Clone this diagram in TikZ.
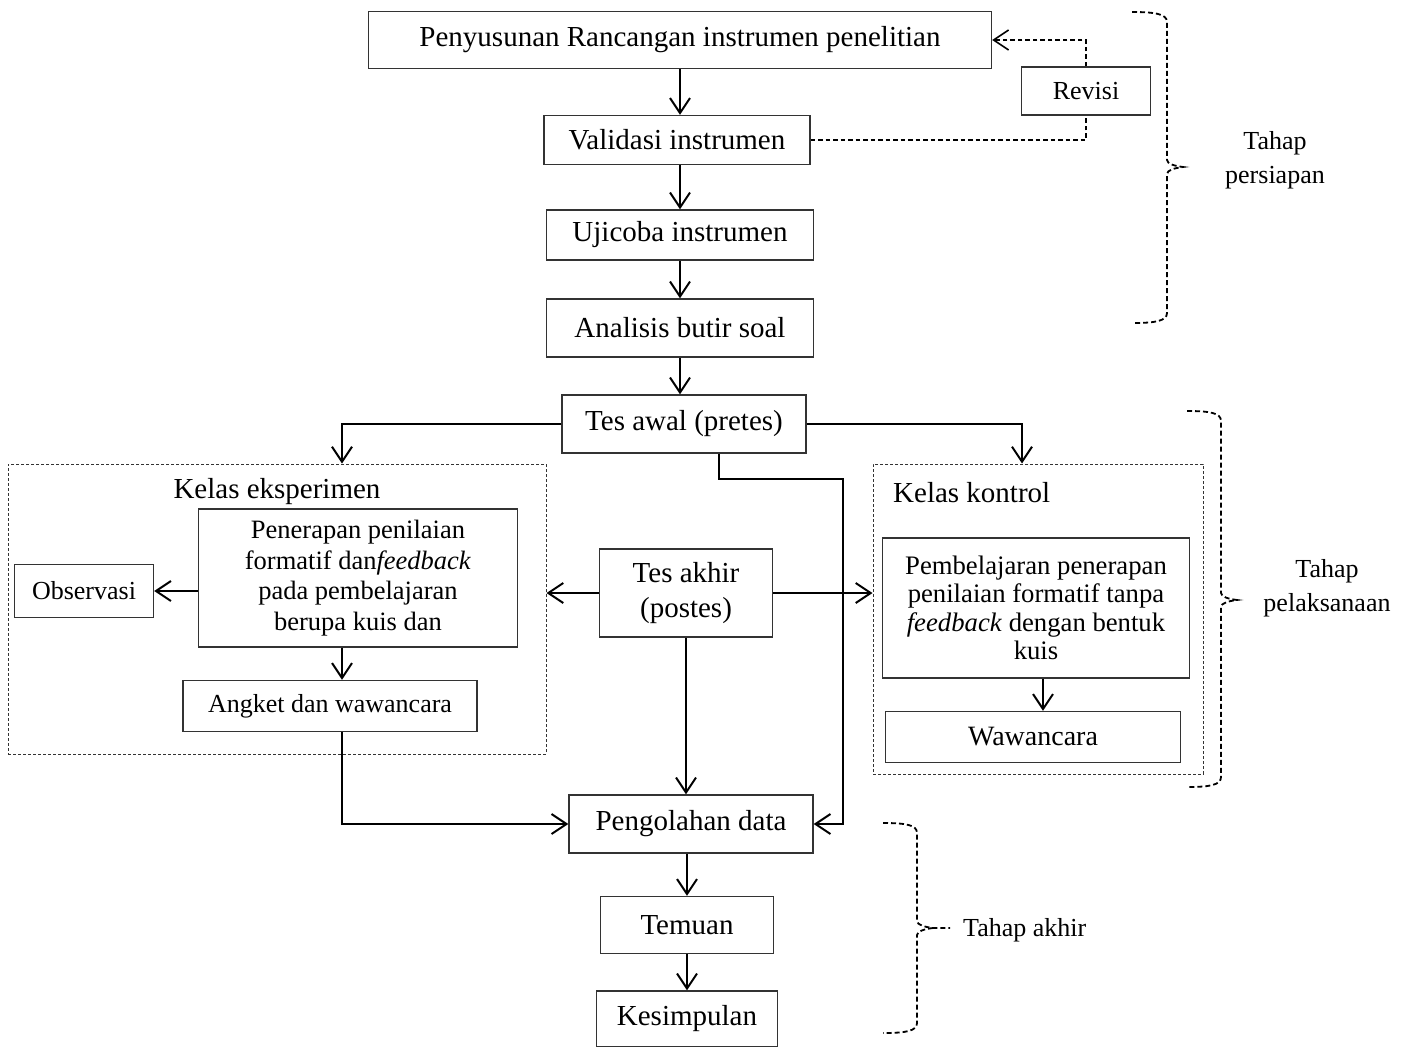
\documentclass[tikz,border=0pt]{standalone}
\usepackage{fontspec}
\setmainfont{Liberation Serif}
\usetikzlibrary{arrows.meta,calc}
\newcommand\fa{\fontsize{29}{35}\selectfont}
\newcommand\fb{\fontsize{26.5}{30.6}\selectfont}
\newcommand\fc{\fontsize{26.7}{28.3}\selectfont}
\newcommand\fd{\fontsize{26}{34}\selectfont}
\begin{document}
\begin{tikzpicture}[x=1pt,y=-1pt,
  box/.style={draw=black!80,line width=1.3pt,inner sep=0pt,align=center,font=\fa},
  grp/.style={draw=black!80,line width=1pt,dash pattern=on 3pt off 2pt,inner sep=0pt},
  tip/.style={-{Straight Barb[length=15pt,width=20pt]}},
  arr/.style={line width=2pt,tip},
  rvs/.style={line width=1.6pt,dash pattern=on 4.5pt off 3pt},
  brc/.style={line width=1.8pt,dash pattern=on 5pt off 3pt},
  lbl/.style={font=\fd,align=center,inner sep=0pt}]
\useasboundingbox (0,0) rectangle (1409,1047);
\fill[white] (0,0) rectangle (1409,1047);

% groups
\node[grp,minimum width=538pt,minimum height=290pt] (eks) at (277,609) {};
\node[grp,minimum width=330pt,minimum height=310pt] (kon) at (1038,619) {};
\node[font=\fa,inner sep=0pt] (eksT) at (277,492) {Kelas eksperimen};
\node[font=\fa,inner sep=0pt,anchor=west] (konT) at (893,493) {Kelas kontrol};

% main boxes
\node[box,minimum width=623pt,minimum height=57pt] (pen) at (680,40) {Penyusunan Rancangan instrumen penelitian};
\node[box,font=\fd,minimum width=129pt,minimum height=48pt] (rev) at (1086,91) {Revisi};
\node[box,minimum width=266pt,minimum height=49pt] (val) at (677,140) {Validasi instrumen};
\node[box,minimum width=267pt,minimum height=50pt] (uji) at (680,235) {Ujicoba instrumen};
\node[box,minimum width=267pt,minimum height=58pt] (ana) at (680,328) {Analisis butir soal};
\node[box,minimum width=244pt,minimum height=58pt] (awal) at (684,424) {Tes awal (pretes)};
\node[box,font=\fb,minimum width=319pt,minimum height=138pt] (penr) at (358,578)
  {Penerapan penilaian\\ formatif dan\textit{feedback}\\ pada pembelajaran\\ berupa kuis dan};
\node[box,font=\fd,minimum width=139pt,minimum height=53pt] (obs) at (84,591) {Observasi};
\node[box,font=\fd,minimum width=294pt,minimum height=51pt] (angk) at (330,706) {Angket dan wawancara};
\node[box,minimum width=173pt,minimum height=88pt] (akhir) at (686,593) {Tes akhir\\ (postes)};
\node[box,font=\fc,minimum width=307pt,minimum height=140pt] (pemb) at (1036,608)
  {Pembelajaran penerapan\\ penilaian formatif tanpa\\ \textit{feedback} dengan bentuk\\ kuis};
\node[box,font=\fontsize{28}{34}\selectfont,minimum width=295pt,minimum height=51pt] (waw) at (1033,737) {Wawancara};
\node[box,minimum width=244pt,minimum height=58pt] (olah) at (691,824) {Pengolahan data};
\node[box,minimum width=173pt,minimum height=57pt] (temu) at (687,925) {Temuan};
\node[box,minimum width=181pt,minimum height=56pt] (kes) at (687,1019) {Kesimpulan};

% helper coordinates
\coordinate (ex) at (342,0);
\coordinate (kx) at (1022,0);
\coordinate (b1) at (719,479);
\coordinate (b2) at (843,479);
\coordinate (wx) at (1043,0);

% connectors
\draw[arr] (pen.south) -- (pen.south |- val.north);
\draw[arr] (uji.north |- val.south) -- (uji.north);
\draw[arr] (uji.south) -- (ana.north);
\draw[arr] (ana.south) -- (ana.south |- awal.north);
\draw[arr] (awal.west) -| (ex |- eks.north);
\draw[arr] (awal.east) -| (kx |- kon.north);
\draw[arr] (b1 |- awal.south) -- (b1) -- (b2) -- (b2 |- olah.east) -- (olah.east);
\draw[arr] (akhir.west) -- (akhir.west -| eks.east);
\draw[arr] (akhir.east) -- (akhir.east -| kon.west);
\draw[arr] (akhir.south) -- (akhir.south |- olah.north);
\draw[arr] (penr.west |- obs.east) -- (obs.east);
\draw[arr] (ex |- penr.south) -- (ex |- angk.north);
\draw[arr] (ex |- angk.south) |- (olah.west);
\draw[arr] (wx |- pemb.south) -- (wx |- waw.north);
\draw[arr] (olah.south -| temu.north) -- (temu.north);
\draw[arr] (temu.south) -- (kes.north);
\draw[rvs] (val.east) -| (rev.south);
\draw[rvs,tip] (rev.north) |- (pen.east);

% braces
\draw[brc] (1132,12) .. controls (1155,12) and (1167,14) .. (1167,22) -- (1167,160)
  .. controls (1167,164) and (1175,166) .. (1183,167)
  .. controls (1175,168) and (1167,170) .. (1167,174) -- (1167,313)
  .. controls (1167,321) and (1155,323) .. (1133,323);
\draw[brc] (1187,411) .. controls (1210,411) and (1221,413) .. (1221,421) -- (1221,593)
  .. controls (1221,597) and (1229,599) .. (1237,600)
  .. controls (1229,601) and (1221,603) .. (1221,607) -- (1221,777)
  .. controls (1221,785) and (1210,787) .. (1187,787);
\draw[brc] (883,823) .. controls (906,823) and (917,825) .. (917,833) -- (917,921)
  .. controls (917,925) and (925,927) .. (933,928) -- (950,928);
\draw[brc] (933,928) .. controls (925,929) and (917,931) .. (917,935) -- (917,1023)
  .. controls (917,1031) and (906,1033) .. (883,1033);

% phase labels
\node[lbl] (t1) at (1275,160) {Tahap\\ persiapan};
\node[lbl] (t2) at (1327,588) {Tahap\\ pelaksanaan};
\node[lbl,anchor=west] (t3) at (963,930) {Tahap akhir};
\end{tikzpicture}
\end{document}
